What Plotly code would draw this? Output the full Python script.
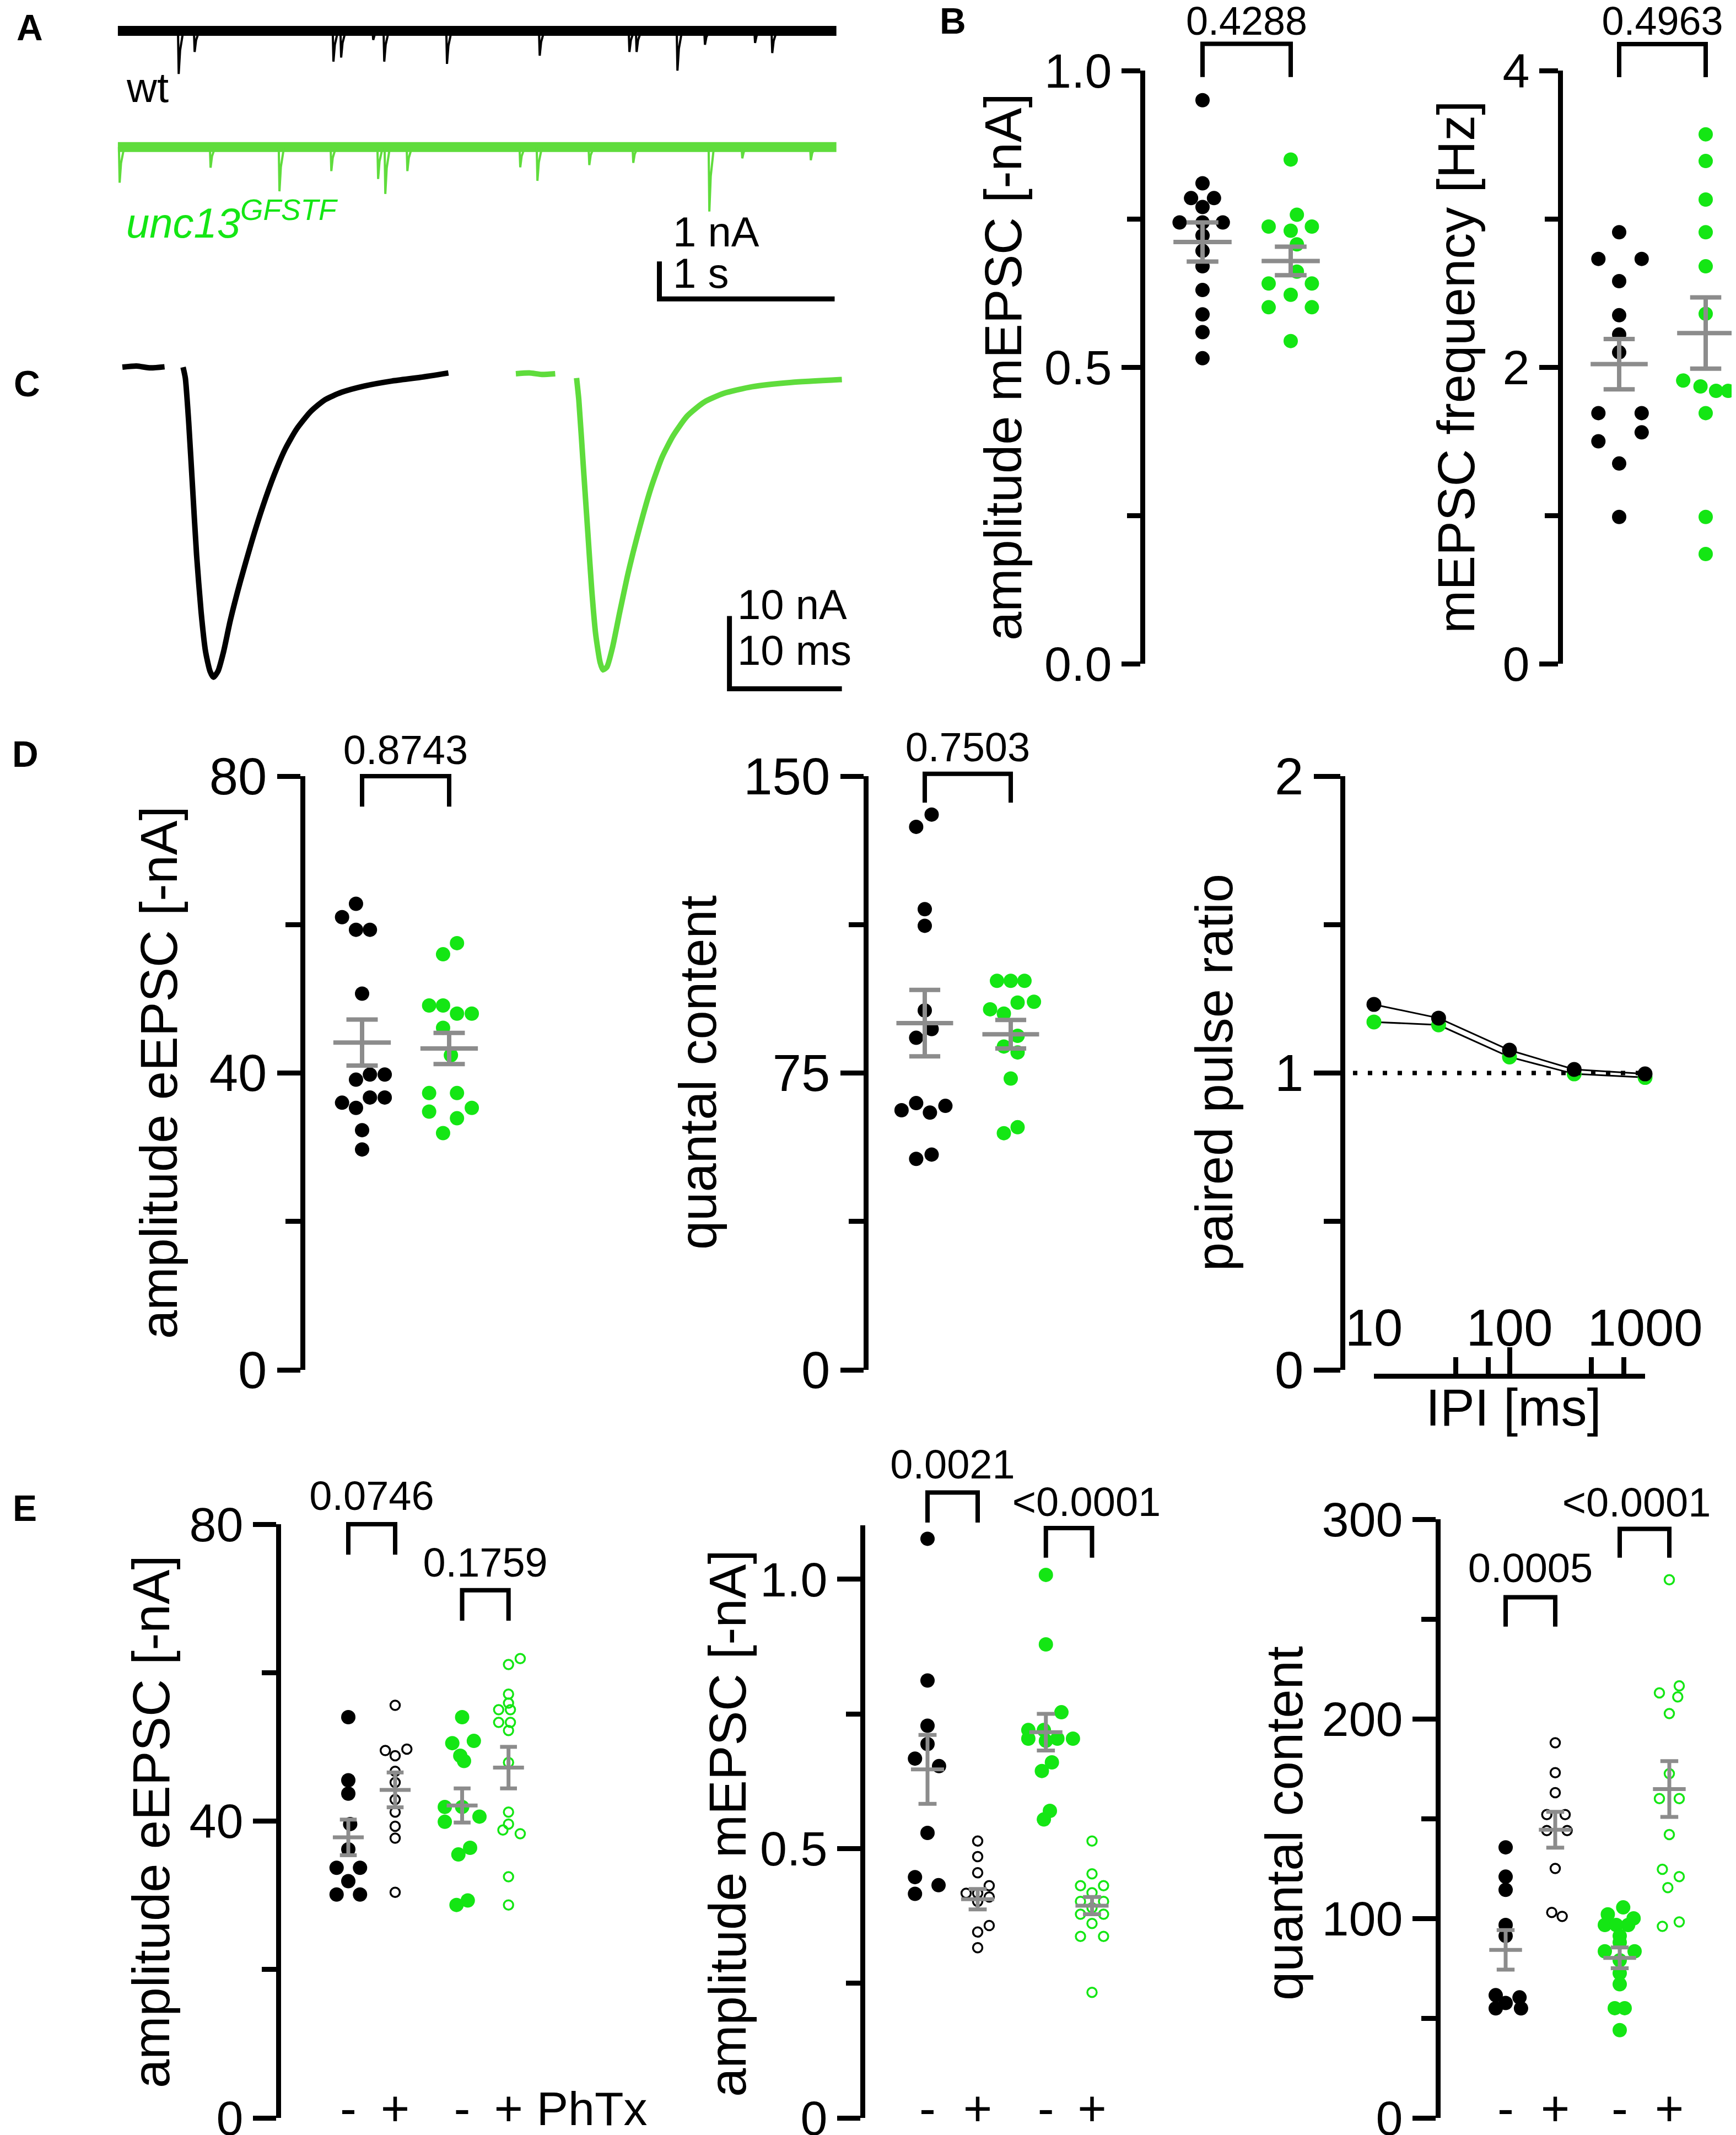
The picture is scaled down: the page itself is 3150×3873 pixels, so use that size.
import plotly.graph_objects as go

W, H = 3150, 3873
FONT = "Liberation Sans, Arial, sans-serif"
BLACK = "#000000"
GREEN = "#14e614"
GREEN_TRACE = "#5fdc3c"
GREY = "#8c8c8c"

# ---------------- DATA ----------------
# A: example mEPSC recordings: event times (s) and amplitudes (nA)
A_DURATION = 4.1
A_WT_T = [0.343, 0.434, 1.226, 1.270, 1.453, 1.516, 1.874, 2.403, 2.915, 2.956, 3.189, 3.346, 3.632, 3.730]
A_WT_AMP = [1.15, 0.56, 0.82, 0.71, 0.24, 0.82, 0.88, 0.66, 0.56, 0.56, 1.06, 0.37, 0.32, 0.59]
A_MUT_T = [0.006, 0.525, 0.918, 1.214, 1.481, 1.522, 1.648, 2.292, 2.390, 2.686, 2.937, 3.371, 3.559, 3.950]
A_MUT_AMP = [0.95, 0.55, 1.18, 0.64, 0.85, 1.25, 0.64, 0.54, 0.90, 0.48, 0.42, 1.72, 0.30, 0.35]

# C: averaged eEPSC traces (ms, nA)
C_WT_PRE_T = [0.0, 1.25, 2.5, 3.75]
C_WT_PRE_I = [0.0, 0.15, -0.1, 0.05]
C_WT_T = [5.4, 5.6, 5.9, 6.25, 6.6, 7.0, 7.4, 7.8, 8.1, 8.5, 9.0, 9.6, 10.5, 11.5, 12.5,
          13.5, 14.5, 15.5, 16.75, 18.0, 19.5, 21.5, 24.0, 26.5, 29.0]
C_WT_I = [0.0, -1.5, -7.6, -16.7, -25.8, -33.6, -39.1, -41.8, -42.6, -41.8, -39.1, -34.8, -29.4,
          -24.0, -19.1, -14.8, -11.2, -8.5, -6.1, -4.5, -3.45, -2.6, -1.9, -1.4, -0.8]
C_MUT_PRE_T = [35.0, 36.2, 37.3, 38.5]
C_MUT_PRE_I = [-0.9, -0.8, -1.0, -0.9]
C_MUT_T = [40.4, 40.6, 41.0, 41.4, 41.75, 42.1, 42.5, 42.75, 43.1, 43.6, 44.25, 45.0, 46.0, 47.0,
           48.0, 49.0, 50.25, 51.75, 53.5, 56.0, 59.5, 64.0]
C_MUT_I = [-1.5, -4.5, -13.6, -22.7, -30.6, -36.7, -40.6, -41.6, -41.2, -38.5, -33.6, -28.2, -22.1,
           -16.7, -12.4, -9.4, -6.7, -4.8, -3.6, -2.7, -2.1, -1.7]

# B: mEPSC amplitude (-nA) and frequency (Hz)
B_AMP_WT = [0.95, 0.81, 0.785, 0.785, 0.77, 0.744, 0.744, 0.744, 0.722, 0.696, 0.67, 0.63, 0.589, 0.559, 0.515]
B_AMP_WT_J = [0, 0, -0.13, 0.13, 0, -0.26, 0, 0.23, 0, 0, 0, 0, 0, 0, 0]
B_AMP_MUT = [0.85, 0.757, 0.737, 0.737, 0.73, 0.707, 0.661, 0.641, 0.641, 0.622, 0.601, 0.601, 0.544]
B_AMP_MUT_J = [0, 0.07, -0.25, 0.24, 0, 0.07, 0.07, -0.25, 0.24, 0, -0.25, 0.24, 0]
B_AMP_MEAN = [0.711, 0.679]
B_AMP_SEM = [0.033, 0.024]
B_FREQ_WT = [2.91, 2.73, 2.73, 2.58, 2.35, 2.22, 2.10, 1.69, 1.69, 1.56, 1.50, 1.35, 0.99]
B_FREQ_WT_J = [0, -0.24, 0.26, 0, 0, 0, 0, -0.24, 0.26, 0.26, -0.24, 0, 0]
B_FREQ_MUT = [3.57, 3.39, 3.13, 2.91, 2.68, 2.36, 1.91, 1.87, 1.84, 1.84, 1.69, 0.99, 0.74]
B_FREQ_MUT_J = [0, 0, 0, 0, 0, 0, -0.26, -0.06, 0.12, 0.26, 0, 0, 0]
B_FREQ_MEAN = [2.02, 2.23]
B_FREQ_SEM = [0.17, 0.24]

# D: eEPSC amplitude (-nA), quantal content, paired pulse ratio
D_AMP_WT = [62.8, 61.0, 59.3, 59.3, 50.7, 39.8, 39.8, 39.1, 36.7, 36.7, 36.0, 35.3, 32.3, 29.7]
D_AMP_WT_J = [-0.07, -0.23, -0.07, 0.09, 0, 0.09, 0.26, -0.07, 0.09, 0.26, -0.23, -0.07, 0, 0]
D_AMP_MUT = [57.5, 56.0, 49.1, 49.1, 48.0, 48.0, 46.1, 42.4, 37.3, 37.3, 35.3, 34.8, 33.9, 31.9]
D_AMP_MUT_J = [0.09, -0.07, -0.23, -0.07, 0.09, 0.26, -0.07, 0.02, -0.23, 0.09, 0.26, -0.23, 0.09, -0.07]
D_AMP_MEAN = [44.1, 43.3]
D_AMP_SEM = [3.1, 2.1]
D_QC_WT = [140.3, 137.2, 116.4, 112.2, 90.8, 86.1, 83.9, 67.4, 66.7, 65.6, 65.0, 54.4, 53.3]
D_QC_WT_J = [0.08, -0.10, 0, 0, 0, 0.08, -0.10, -0.10, 0.24, -0.27, 0.06, 0.08, -0.10]
D_QC_MUT = [98.3, 98.3, 98.3, 93.0, 92.8, 91.1, 90.0, 84.4, 81.7, 80.2, 73.6, 61.3, 59.8]
D_QC_MUT_J = [-0.16, 0, 0.16, 0.27, 0.08, -0.24, -0.08, 0.08, -0.08, 0.08, 0, 0.08, -0.08]
D_QC_MEAN = [87.6, 84.8]
D_QC_SEM = [8.4, 3.6]
PPR_IPI = [10, 30, 100, 300, 1000]
PPR_WT = [1.231, 1.185, 1.077, 1.012, 0.997]
PPR_MUT = [1.172, 1.162, 1.054, 0.997, 0.985]

# E: PhTx experiments (groups: wt -, wt +, mut -, mut +)
E_AMP = [
    [54.0, 45.5, 43.7, 39.6, 36.2, 33.7, 33.7, 31.9, 30.1, 30.1],
    [55.6, 49.5, 49.7, 48.8, 46.7, 45.2, 42.9, 41.2, 39.3, 37.7, 30.4],
    [54.0, 50.8, 50.5, 48.8, 48.1, 41.9, 41.9, 40.6, 39.9, 36.4, 35.5, 29.3, 28.7],
    [61.9, 61.1, 57.1, 55.9, 55.0, 55.0, 53.3, 53.3, 52.2, 47.9, 41.2, 39.6, 38.8, 38.3, 32.5, 28.7],
]
E_AMP_J = [
    [0, 0, 0, 0.04, 0, -0.25, 0.25, 0, -0.25, 0.25],
    [0, -0.21, 0.25, 0, 0, 0, 0, 0, 0, 0, 0],
    [0, 0.25, -0.21, -0.04, 0.04, -0.37, 0, 0.37, -0.37, 0.17, -0.08, 0.12, -0.12],
    [0.25, 0, 0, 0, -0.21, 0.04, -0.21, 0.04, 0, 0, 0, 0, -0.12, 0.25, 0, 0],
]
E_AMP_MEAN = [37.8, 44.2, 42.1, 47.2]
E_AMP_SEM = [2.4, 2.35, 2.3, 2.8]
E_MINI = [
    [1.075, 0.812, 0.728, 0.694, 0.667, 0.653, 0.529, 0.447, 0.432, 0.416],
    [0.514, 0.485, 0.455, 0.431, 0.417, 0.417, 0.410, 0.402, 0.357, 0.345, 0.316],
    [1.008, 0.879, 0.753, 0.720, 0.720, 0.704, 0.704, 0.704, 0.700, 0.660, 0.644, 0.570, 0.554],
    [0.514, 0.453, 0.431, 0.431, 0.418, 0.402, 0.402, 0.390, 0.378, 0.378, 0.361, 0.337, 0.337, 0.233],
]
E_MINI_J = [
    [0, 0, 0, 0, -0.25, 0.23, 0, -0.25, 0.22, -0.25],
    [0, 0, 0, 0.23, -0.23, 0, 0.23, 0, 0.23, 0, 0],
    [0, 0, 0.31, -0.35, -0.04, -0.35, 0.23, 0.54, 0, 0.12, -0.08, 0.08, -0.04],
    [0, 0, -0.23, 0.23, 0, -0.23, 0.23, 0, -0.23, 0.23, 0, -0.23, 0.23, 0],
]
E_MINI_MEAN = [0.647, 0.406, 0.716, 0.394]
E_MINI_SEM = [0.064, 0.019, 0.034, 0.016]
E_QC = [
    [135.6, 120.9, 114.3, 96.7, 91.2, 61.5, 60.4, 57.6, 54.9, 54.9],
    [188, 173, 163, 152, 152, 144, 144, 125, 103, 101],
    [105.5, 102, 100, 96.7, 96.7, 96.7, 91.2, 87.9, 83.5, 83.5, 79, 72.5, 67, 55, 55, 44],
    [269.7, 216.5, 213, 211, 202.6, 172.5, 160, 160, 142, 124.6, 120.9, 115.4, 98.2, 96],
]
E_QC_J = [
    [0, 0, 0, 0, 0, -0.2, 0.28, 0, -0.2, 0.31],
    [0, 0, 0, -0.17, 0.2, -0.17, 0.24, 0, -0.07, 0.14],
    [0.07, -0.24, 0.28, -0.3, -0.07, 0.17, 0, 0, -0.3, 0.3, 0, 0, 0, -0.1, 0.1, 0],
    [0, 0.2, -0.2, 0.17, 0, 0, -0.2, 0.2, 0, -0.14, 0.2, -0.03, 0.2, -0.14],
]
E_QC_MEAN = [84.2, 144.4, 80.2, 164.8]
E_QC_SEM = [9.9, 9.0, 5.2, 14.0]
E_LABELS = ["-", "+", "-", "+"]

# ---------------- FIGURE ----------------
fig = go.Figure()
axes = {}
annots = []


def fxp(p):
    return p / W


def fyp(p):
    return 1 - p / H


AXW = 9


def yaxis_style(ymax, tickvals, ticktext, minor, tl=44, mtl=27, fs=92):
    return dict(range=[0, ymax], showline=True, linewidth=AXW, linecolor="black",
                ticks="outside", ticklen=tl, tickwidth=AXW, tickcolor="black",
                tickvals=tickvals, ticktext=ticktext,
                tickfont=dict(size=fs, family=FONT, color="black"),
                ticklabeloverflow="allow",
                showgrid=False, zeroline=False,
                minor=dict(tickmode="array", tickvals=minor, ticks="outside", ticklen=mtl,
                           tickwidth=AXW, tickcolor="black", showgrid=False))


def add_panel(n, axis_px, cat0_px, unit_px, right_px, top_px, bot_px, ymax,
              tickvals, ticktext, minor, ext_top_px, tl=44, mtl=27, fs=92):
    x0 = -(cat0_px - axis_px) / unit_px
    x1 = (right_px - cat0_px) / unit_px
    axes[f"xaxis{n}"] = dict(domain=[fxp(axis_px), fxp(right_px)], range=[x0, x1],
                             visible=False, anchor=f"y{n}")
    ya = yaxis_style(ymax, tickvals, ticktext, minor, tl, mtl, fs)
    ya.update(domain=[fyp(bot_px), fyp(top_px)], anchor=f"x{n}")
    axes[f"yaxis{n}"] = ya
    ext_max = ymax * (bot_px - ext_top_px) / (bot_px - top_px)
    axes[f"yaxis{n + 20}"] = dict(domain=[fyp(bot_px), fyp(ext_top_px)], range=[0, ext_max],
                                  anchor=f"x{n}", visible=False)


def add_group(n, cat, vals, jit, color, hollow=False):
    if hollow:
        marker = dict(size=17, symbol="circle-open", color=color, line=dict(width=3.5, color=color))
    else:
        marker = dict(size=26, symbol="circle", color=color, line=dict(width=0))
    fig.add_trace(go.Scatter(x=[cat + j for j in jit], y=vals, mode="markers",
                             xaxis=f"x{n}", yaxis=f"y{n}", marker=marker,
                             cliponaxis=False, showlegend=False, hoverinfo="skip"))


def add_mean(n, cat, mean, sem, width=8, hw=0.33, cw=0.18):
    xs = [cat - hw, cat + hw, None, cat, cat, None, cat - cw, cat + cw, None, cat - cw, cat + cw]
    ys = [mean, mean, None, mean - sem, mean + sem, None, mean + sem, mean + sem, None,
          mean - sem, mean - sem]
    fig.add_trace(go.Scatter(x=xs, y=ys, mode="lines", xaxis=f"x{n}", yaxis=f"y{n}",
                             line=dict(color=GREY, width=width), cliponaxis=False,
                             showlegend=False, hoverinfo="skip"))


def add_bracket(n, c0, c1, top, leg, text, ty, tdx=0.0, fs=74):
    fig.add_trace(go.Scatter(x=[c0, c0, c1, c1], y=[leg, top, top, leg], mode="lines",
                             xaxis=f"x{n}", yaxis=f"y{n + 20}",
                             line=dict(color="black", width=8),
                             showlegend=False, hoverinfo="skip"))
    fig.add_trace(go.Scatter(x=[(c0 + c1) / 2 + tdx], y=[ty], mode="text", text=[text],
                             textposition="middle center",
                             textfont=dict(size=fs, family=FONT, color="black"),
                             xaxis=f"x{n}", yaxis=f"y{n + 20}", cliponaxis=False,
                             showlegend=False, hoverinfo="skip"))


def title(cx, cy, text):
    annots.append(dict(x=fxp(cx), y=fyp(cy), xref="paper", yref="paper", text=text,
                       textangle=-90, showarrow=False, xanchor="center", yanchor="middle",
                       font=dict(size=94, family=FONT, color="black")))


def letter(cx, cy, text):
    annots.append(dict(x=fxp(cx), y=fyp(cy), xref="paper", yref="paper", text=f"<b>{text}</b>",
                       showarrow=False, xanchor="center", yanchor="middle",
                       font=dict(size=66, family=FONT, color="black")))


# ---- Panel B ----
add_panel(1, 2070, 2174, 160, 2500, 120, 1196, 1.0, [0, 0.5, 1.0], ["0.0", "0.5", "1.0"],
          [0.25, 0.75], 0, tl=34, mtl=24, fs=88)
add_group(1, 0, B_AMP_WT, B_AMP_WT_J, BLACK)
add_group(1, 1, B_AMP_MUT, B_AMP_MUT_J, GREEN)
for i in range(2):
    add_mean(1, i, B_AMP_MEAN[i], B_AMP_SEM[i])
add_bracket(1, 0, 1, 1.045, 0.989, "0.4288", 1.077, fs=72)
title(1812, 658, "amplitude mEPSC [-nA]")

add_panel(2, 2828, 2930, 157, 3150, 120, 1196, 4.0, [0, 2, 4], ["0", "2", "4"], [1, 3], 0,
          tl=34, mtl=24, fs=88)
add_group(2, 0, B_FREQ_WT, B_FREQ_WT_J, BLACK)
add_group(2, 1, B_FREQ_MUT, B_FREQ_MUT_J, GREEN)
for i in range(2):
    add_mean(2, i, B_FREQ_MEAN[i], B_FREQ_SEM[i])
add_bracket(2, 0, 1, 4.178, 3.955, "0.4963", 4.308, fs=72)
title(2634, 658, "mEPSC frequency [Hz]")

# ---- Panel D ----
add_panel(3, 546, 649, 158, 1000, 1400, 2477, 80, [0, 40, 80], ["0", "40", "80"], [20, 60], 1280,
          tl=42, mtl=27, fs=94)
add_group(3, 0, D_AMP_WT, D_AMP_WT_J, BLACK)
add_group(3, 1, D_AMP_MUT, D_AMP_MUT_J, GREEN)
for i in range(2):
    add_mean(3, i, D_AMP_MEAN[i], D_AMP_SEM[i])
add_bracket(3, 0, 1, 80.0, 75.9, "0.8743", 83.0)
title(280, 1938, "amplitude eEPSC [-nA]")

add_panel(4, 1568, 1670, 156, 2000, 1400, 2477, 150, [0, 75, 150], ["0", "75", "150"],
          [37.5, 112.5], 1280, tl=42, mtl=27, fs=94)
add_group(4, 0, D_QC_WT, D_QC_WT_J, BLACK)
add_group(4, 1, D_QC_MUT, D_QC_MUT_J, GREEN)
for i in range(2):
    add_mean(4, i, D_QC_MEAN[i], D_QC_SEM[i])
add_bracket(4, 0, 1, 150.6, 143.3, "0.7503", 156.4)
title(1258, 1938, "quantal content")

# paired pulse ratio (log x)
axes["xaxis8"] = dict(type="log", domain=[fxp(2485), fxp(2977)], range=[1, 3], anchor="free",
                      position=fyp(2488), showline=True, linewidth=AXW, linecolor="black",
                      ticks="inside", ticklen=48, tickwidth=AXW, tickcolor="black",
                      tickvals=[10, 100, 1000], ticktext=["10", "100", "1000"],
                      ticklabelposition="inside", ticklabeloverflow="allow",
                      tickfont=dict(size=94, family=FONT, color="black"),
                      showgrid=False, zeroline=False,
                      minor=dict(tickmode="array", tickvals=[40, 70, 400, 700], ticks="inside",
                                 ticklen=30, tickwidth=AXW, tickcolor="black", showgrid=False))
ya8 = yaxis_style(2, [0, 1, 2], ["0", "1", "2"], [0.5, 1.5], tl=48, mtl=30, fs=94)
ya8.update(domain=[fyp(2477), fyp(1400)], anchor="free", position=fxp(2428))
axes["yaxis8"] = ya8
axes["xaxis18"] = dict(type="log", domain=[fxp(2428), fxp(2990)], range=[0.768, 3.053],
                       anchor="y8", visible=False)
PPR_REF_X = [7, 1000]
PPR_REF_Y = [1, 1]
fig.add_trace(go.Scatter(x=PPR_REF_X, y=PPR_REF_Y, mode="lines", xaxis="x18", yaxis="y8",
                         line=dict(color="black", width=8, dash="8px,19px"),
                         showlegend=False, hoverinfo="skip"))
fig.add_trace(go.Scatter(x=PPR_IPI, y=PPR_MUT, mode="lines+markers", xaxis="x8", yaxis="y8",
                         line=dict(color="black", width=3),
                         marker=dict(size=27, color=GREEN), cliponaxis=False,
                         showlegend=False, hoverinfo="skip"))
fig.add_trace(go.Scatter(x=PPR_IPI, y=PPR_WT, mode="lines+markers", xaxis="x8", yaxis="y8",
                         line=dict(color="black", width=3),
                         marker=dict(size=27, color=BLACK), cliponaxis=False,
                         showlegend=False, hoverinfo="skip"))
title(2195, 1938, "paired pulse ratio")
annots.append(dict(x=fxp(2738), y=fyp(2545), xref="paper", yref="paper", text="IPI [ms]",
                   showarrow=False, xanchor="center", yanchor="middle",
                   font=dict(size=94, family=FONT, color="black")))

# ---- Panel E ----
E_COLORS = [BLACK, BLACK, GREEN, GREEN]
E_HOLLOW = [False, True, False, True]
E_BOT = 3834


def e_panel(n, pos, vals, jits, means, sems, ymax):
    for g in range(4):
        add_group(n, pos[g], vals[g], jits[g], E_COLORS[g], E_HOLLOW[g])
    for g in range(4):
        add_mean(n, pos[g], means[g], sems[g], width=7)
    fig.add_trace(go.Scatter(x=pos, y=[0.008 * ymax] * 4, mode="text", text=E_LABELS,
                             textposition="middle center",
                             textfont=dict(size=90, family=FONT, color="black"),
                             xaxis=f"x{n}", yaxis=f"y{n}", cliponaxis=False,
                             showlegend=False, hoverinfo="skip"))


E1_POS = [0, 1, 2.43, 3.42]
add_panel(5, 502, 624, 85, 1150, 2757, E_BOT, 80, [0, 40, 80], ["0", "40", "80"], [20, 60], 2600,
          tl=42, mtl=26, fs=88)
e_panel(5, E1_POS, E_AMP, E_AMP_J, E_AMP_MEAN, E_AMP_SEM, 80)
fig.add_trace(go.Scatter(x=[4.02], y=[0.008 * 80], mode="text", text=["PhTx"],
                         textposition="middle right",
                         textfont=dict(size=86, family=FONT, color="black"),
                         xaxis="x5", yaxis="y5", cliponaxis=False, showlegend=False,
                         hoverinfo="skip"))
add_bracket(5, E1_POS[0], E1_POS[1], 80.0, 75.9, "0.0746", 83.3)
add_bracket(5, E1_POS[2], E1_POS[3], 71.1, 67.0, "0.1759", 74.3)
title(266, 3297, "amplitude eEPSC [-nA]")

E2_POS = [0, 1, 2.36, 3.28]
add_panel(6, 1562, 1675, 91, 2100, 2759, E_BOT, 1.1, [0, 0.5, 1.0], ["0", "0.5", "1.0"],
          [0.25, 0.75], 2600, tl=42, mtl=26, fs=88)
e_panel(6, E2_POS, E_MINI, E_MINI_J, E_MINI_MEAN, E_MINI_SEM, 1.1)
add_bracket(6, E2_POS[0], E2_POS[1], 1.161, 1.105, "0.0021", 1.206)
add_bracket(6, E2_POS[2], E2_POS[3], 1.095, 1.040, "<0.0001", 1.136, tdx=0.35)
title(1312, 3300, "amplitude mEPSC [-nA]")

E3_POS = [0, 1, 2.3, 3.3]
add_panel(7, 2606, 2724, 90, 3150, 2748, E_BOT, 300, [0, 100, 200, 300],
          ["0", "100", "200", "300"], [50, 150, 250], 2600, tl=42, mtl=26, fs=88)
e_panel(7, E3_POS, E_QC, E_QC_J, E_QC_MEAN, E_QC_SEM, 300)
add_bracket(7, E3_POS[0], E3_POS[1], 260.9, 246.2, "0.0005", 273.6)
add_bracket(7, E3_POS[2], E3_POS[3], 295.2, 280.7, "<0.0001", 306.6, tdx=-0.16)
title(2322, 3300, "quantal content")

# ---- Panel A (traces) ----
A_WT_OFFSET = 0.0
A_MUT_OFFSET = -3.1
axes["xaxis9"] = dict(domain=[fxp(190), fxp(1530)], range=[-0.05, 4.164], visible=False,
                      anchor="y9")
axes["yaxis9"] = dict(domain=[fyp(560), fyp(10)], range=[-7.53, 0.56], visible=False,
                      anchor="x9")


def recording(times, amps, offset, color):
    fig.add_trace(go.Scatter(x=[0, A_DURATION], y=[offset, offset], mode="lines",
                             xaxis="x9", yaxis="y9", line=dict(color=color, width=18),
                             showlegend=False, hoverinfo="skip"))
    xs, ys = [], []
    for t, a in zip(times, amps):
        xs += [t, t + 0.004, t + 0.012, t + 0.03, None]
        ys += [offset, offset - a, offset - 0.45 * a, offset, None]
    fig.add_trace(go.Scatter(x=xs, y=ys, mode="lines", xaxis="x9", yaxis="y9",
                             line=dict(color=color, width=4),
                             showlegend=False, hoverinfo="skip"))


recording(A_WT_T, A_WT_AMP, A_WT_OFFSET, BLACK)
recording(A_MUT_T, A_MUT_AMP, A_MUT_OFFSET, GREEN_TRACE)
A_BAR_T0, A_BAR_I0 = 3.09, -6.15
fig.add_trace(go.Scatter(x=[A_BAR_T0, A_BAR_T0, A_BAR_T0 + 1.0], y=[A_BAR_I0, A_BAR_I0 - 1.0, A_BAR_I0 - 1.0],
                         mode="lines", xaxis="x9", yaxis="y9", line=dict(color="black", width=9),
                         showlegend=False, hoverinfo="skip"))
for txt, tx, ty, col in [("wt", 0.041, -1.50, BLACK),
                         ("<i>unc13<sup>GFSTF</sup></i>", 0.041, -5.04, GREEN),
                         ("1 nA", 3.16, -5.36, BLACK), ("1 s", 3.16, -6.47, BLACK)]:
    annots.append(dict(x=tx, y=ty, xref="x9", yref="y9", text=txt, showarrow=False,
                       xanchor="left", yanchor="middle",
                       font=dict(size=76, family=FONT, color=col)))

# ---- Panel C (traces) ----
axes["xaxis10"] = dict(domain=[fxp(190), fxp(1540)], range=[-1.18, 65.0], visible=False,
                       anchor="y10")
axes["yaxis10"] = dict(domain=[fyp(1260), fyp(620)], range=[-45.6, 2.88], visible=False,
                       anchor="x10")
for tt, ii, col in [(C_WT_PRE_T, C_WT_PRE_I, BLACK), (C_WT_T, C_WT_I, BLACK),
                    (C_MUT_PRE_T, C_MUT_PRE_I, GREEN_TRACE), (C_MUT_T, C_MUT_I, GREEN_TRACE)]:
    fig.add_trace(go.Scatter(x=tt, y=ii, mode="lines", xaxis="x10", yaxis="y10",
                             line=dict(color=col, width=10, shape="spline", smoothing=0.6),
                             showlegend=False, hoverinfo="skip"))
C_BAR_T0, C_BAR_I0 = 54.0, -34.2
fig.add_trace(go.Scatter(x=[C_BAR_T0, C_BAR_T0, C_BAR_T0 + 10], y=[C_BAR_I0, C_BAR_I0 - 10, C_BAR_I0 - 10],
                         mode="lines", xaxis="x10", yaxis="y10", line=dict(color="black", width=9),
                         showlegend=False, hoverinfo="skip"))
for txt, ty in [("10 nA", -32.6), ("10 ms", -38.9)]:
    annots.append(dict(x=54.6, y=ty, xref="x10", yref="y10", text=txt, showarrow=False,
                       xanchor="left", yanchor="middle",
                       font=dict(size=76, family=FONT, color="black")))

# panel letters
for L, cx, cy in [("A", 46, 42), ("B", 1721, 30), ("C", 41, 688), ("D", 38, 1360), ("E", 37, 2728)]:
    letter(cx, cy, L)

fig.update_layout(width=W, height=H, autosize=False, margin=dict(l=0, r=0, t=0, b=0),
                  paper_bgcolor="white", plot_bgcolor="rgba(0,0,0,0)", template="none",
                  font=dict(family=FONT, color="black"), showlegend=False,
                  annotations=annots, **axes)

fig.write_html("out.html")
